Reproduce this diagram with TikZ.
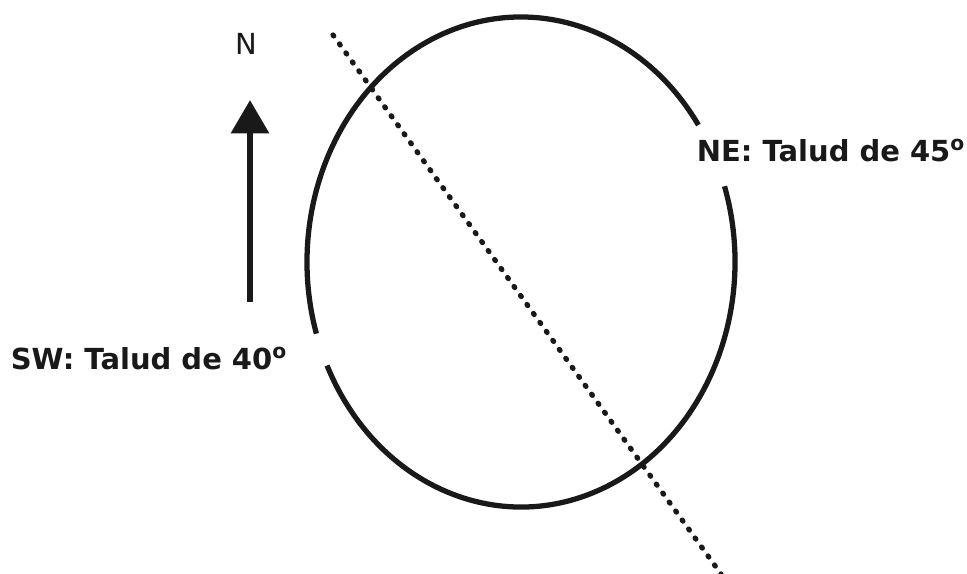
\documentclass[tikz,border=0pt]{standalone}
\usepackage{fontspec}
\setmainfont{DejaVu Sans}
\usetikzlibrary{arrows.meta}

\begin{document}
\begin{tikzpicture}[x=0.02cm,y=0.02cm,
    rim/.style={line width=3pt,black!90},
    axis/.style={line width=3pt,black!90,line cap=round,dash pattern=on 0.7pt off 5.6pt},
    label/.style={font=\bfseries\fontsize{16.5}{18}\selectfont,text=black!90,inner sep=0pt},
    north/.style={line width=3.8pt,black!90,-{Triangle[length=19pt,width=21pt]}}]
  \useasboundingbox (0,0) rectangle (967,574);
  % slope outline, broken at the two labels
  \coordinate (c) at (521,312);
  \draw[rim] (c) ++(34:214 and 245) arc[start angle=34,end angle=197,x radius=214,y radius=245];
  \draw[rim] (c) ++(205:214 and 245) arc[start angle=205,end angle=378,x radius=214,y radius=245];
  % section line
  \coordinate (axtop) at (333,539);
  \coordinate (axbot) at (721,0);
  \draw[axis] (axtop) -- (axbot);
  % north arrow
  \node[font=\fontsize{16.5}{18}\selectfont,text=black!90,inner sep=0pt] (n) at (246,530) {N};
  \coordinate (nbase) at (250,272);
  \coordinate (ntip) at (250,474);
  \draw[north] (nbase) -- (ntip);
  \node[label] (ne) at (831,423) {NE: Talud de 45\textsuperscript{o}};
  \node[label] (sw) at (149,215) {SW: Talud de 40\textsuperscript{o}};
\end{tikzpicture}
\end{document}
